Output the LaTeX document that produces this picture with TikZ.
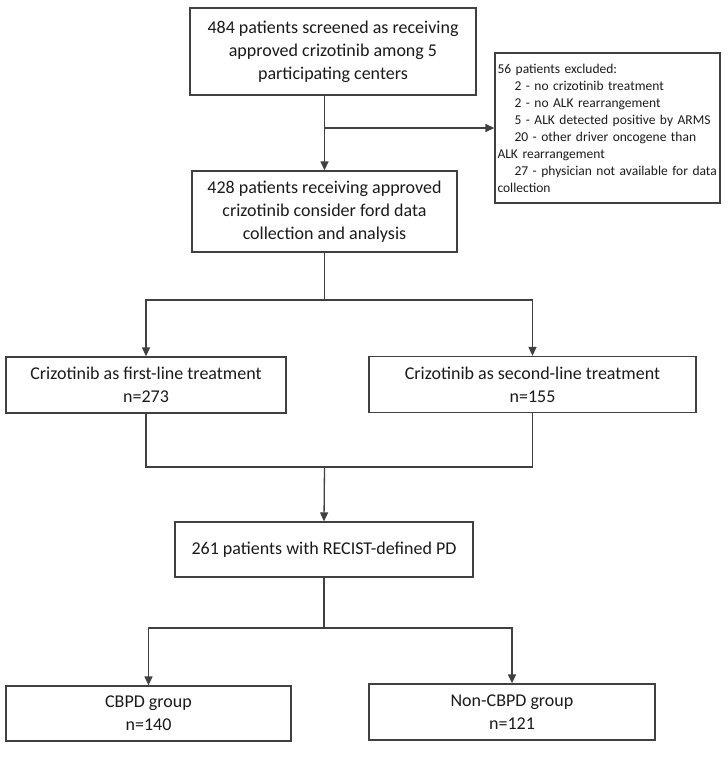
\documentclass[tikz,border=0pt]{standalone}
\usepackage{fontspec}
\setmainfont{Carlito}
\usetikzlibrary{arrows.meta}
\definecolor{ln}{HTML}{404040}
\definecolor{tx}{HTML}{1A1A1A}
\begin{document}
\begin{tikzpicture}[x=1pt,y=-1pt,
  box/.style={draw=ln, line width=1.3pt, rectangle, inner sep=0pt, align=center, text=tx,
    font=\fontsize{18}{23}\selectfont},
  conn/.style={draw=ln, line width=1.3pt},
  arr/.style={conn, -{Triangle[length=9pt,width=8pt]}}]
\useasboundingbox (0,0) rectangle (728,758);
\node[box, minimum width=286, minimum height=87] (b1) at (333,51.5)
  {484 patients screened as receiving\\approved crizotinib among 5\\participating centers};
\node[box, minimum width=265, minimum height=81] (b2) at (324.5,211.5)
  {428 patients receiving approved\\crizotinib consider ford data\\collection and analysis};
\node[box, minimum width=225, minimum height=150, text width=220, inner xsep=2.5pt, align=left,
  font=\fontsize{13.5}{17}\selectfont] (ex) at (607.5,128)
  {56 patients excluded:\\
   \hspace*{17pt}2 - no crizotinib treatment\\
   \hspace*{17pt}2 - no ALK rearrangement\\
   \hspace*{17pt}5 - ALK detected positive by ARMS\\
   \hspace*{17pt}20 - other driver oncogene than\\
   ALK rearrangement\\
   \hspace*{17pt}27 - physician not available for data\\
   collection};
\node[box, minimum width=280, minimum height=56] (bl) at (146,385)
  {Crizotinib as first-line treatment\\n=273};
\node[box, minimum width=327, minimum height=56] (br) at (532.5,384.5)
  {Crizotinib as second-line treatment\\n=155};
\node[box, minimum width=298, minimum height=55] (pd) at (324,549.5)
  {261 patients with RECIST-defined PD};
\node[box, minimum width=285, minimum height=55] (cb) at (148.5,713.5)
  {CBPD group\\n=140};
\node[box, minimum width=286, minimum height=56] (nc) at (512,712)
  {Non-CBPD group\\n=121};
\coordinate (j1) at (324.5,128);
\coordinate (s1) at (324.5,300);
\coordinate (j2) at (324.5,467);
\coordinate (j3) at (324,628);
\draw[arr] (b1.south -| b2.north) -- (b2.north);
\draw[arr] (j1) -- (ex.west);
\draw[conn] (b2.south) -- (s1);
\draw[arr] (s1) -| (bl.north);
\draw[arr] (s1) -| (br.north);
\draw[conn] (bl.south) |- (j2) -| (br.south);
\draw[arr] (j2) -- (pd.north);
\draw[conn] (pd.south) -- (j3);
\draw[arr] (j3) -| (cb.north);
\draw[arr] (j3) -| (nc.north);
\end{tikzpicture}
\end{document}
